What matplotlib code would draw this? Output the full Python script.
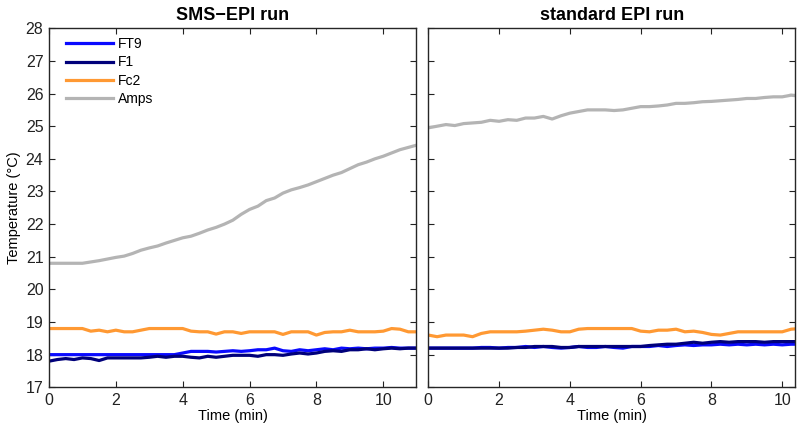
import numpy as np
import matplotlib
matplotlib.use('Agg')
import matplotlib.pyplot as plt

plt.rcParams['font.family'] = ['Liberation Sans', 'DejaVu Sans']

# Time grids (minutes)
t_sms = np.arange(0, 11.01, 0.25)
t_std = np.arange(0, 10.51, 0.25)

# SMS-EPI run temperatures (deg C)
sms_ft9 = [18.0, 18.0, 18.0, 18.0, 18.0, 18.0, 18.0, 18.0, 18.0, 18.0, 18.0, 18.0,
           18.0, 18.0, 18.0, 18.0, 18.05, 18.1, 18.1, 18.1, 18.08, 18.1, 18.12, 18.1,
           18.12, 18.15, 18.15, 18.2, 18.12, 18.1, 18.15, 18.12, 18.15, 18.18, 18.15,
           18.2, 18.18, 18.2, 18.18, 18.2, 18.2, 18.22, 18.2, 18.2, 18.2]
sms_f1 = [17.8, 17.85, 17.88, 17.85, 17.9, 17.88, 17.82, 17.9, 17.9, 17.9, 17.9, 17.9,
          17.92, 17.95, 17.92, 17.95, 17.95, 17.92, 17.9, 17.95, 17.92, 17.95, 17.98,
          17.98, 17.98, 17.95, 18.0, 18.0, 17.98, 18.02, 18.05, 18.02, 18.05, 18.1,
          18.12, 18.1, 18.15, 18.15, 18.18, 18.15, 18.18, 18.2, 18.18, 18.2, 18.2]
sms_fc2 = [18.8, 18.8, 18.8, 18.8, 18.8, 18.72, 18.75, 18.7, 18.75, 18.7, 18.7, 18.75,
           18.8, 18.8, 18.8, 18.8, 18.8, 18.72, 18.7, 18.7, 18.63, 18.7, 18.7, 18.65,
           18.7, 18.7, 18.7, 18.7, 18.62, 18.7, 18.7, 18.7, 18.6, 18.68, 18.7, 18.7,
           18.75, 18.7, 18.7, 18.7, 18.72, 18.8, 18.78, 18.7, 18.7]
sms_amps = [20.8, 20.8, 20.8, 20.8, 20.8, 20.84, 20.88, 20.93, 20.98, 21.02, 21.1, 21.2,
            21.27, 21.33, 21.42, 21.5, 21.58, 21.63, 21.72, 21.82, 21.9, 22.0, 22.12,
            22.3, 22.45, 22.55, 22.72, 22.8, 22.95, 23.05, 23.12, 23.2, 23.3, 23.4, 23.5,
            23.58, 23.7, 23.82, 23.9, 24.0, 24.08, 24.18, 24.28, 24.35, 24.42]

# standard EPI run temperatures (deg C)
std_ft9 = [18.2, 18.2, 18.2, 18.2, 18.2, 18.2, 18.22, 18.22, 18.2, 18.22, 18.22, 18.25,
           18.22, 18.25, 18.22, 18.2, 18.22, 18.25, 18.22, 18.22, 18.25, 18.22, 18.2,
           18.25, 18.25, 18.25, 18.28, 18.25, 18.28, 18.3, 18.28, 18.3, 18.3, 18.32,
           18.3, 18.32, 18.3, 18.32, 18.3, 18.32, 18.3, 18.32, 18.32]
std_f1 = [18.2, 18.2, 18.2, 18.2, 18.2, 18.2, 18.2, 18.2, 18.2, 18.2, 18.22, 18.22,
          18.25, 18.25, 18.25, 18.22, 18.22, 18.25, 18.25, 18.25, 18.25, 18.25, 18.25,
          18.25, 18.25, 18.28, 18.3, 18.32, 18.32, 18.35, 18.38, 18.35, 18.38, 18.4,
          18.38, 18.4, 18.4, 18.4, 18.38, 18.4, 18.4, 18.4, 18.4]
std_fc2 = [18.6, 18.55, 18.6, 18.6, 18.6, 18.55, 18.65, 18.7, 18.7, 18.7, 18.7, 18.72,
           18.75, 18.78, 18.75, 18.7, 18.7, 18.78, 18.8, 18.8, 18.8, 18.8, 18.8, 18.8,
           18.72, 18.7, 18.75, 18.75, 18.78, 18.7, 18.72, 18.68, 18.62, 18.6, 18.65,
           18.7, 18.7, 18.7, 18.7, 18.7, 18.7, 18.78, 18.8]
std_amps = [24.95, 25.0, 25.05, 25.02, 25.08, 25.1, 25.12, 25.18, 25.15, 25.2, 25.18,
            25.25, 25.25, 25.3, 25.22, 25.32, 25.4, 25.45, 25.5, 25.5, 25.5, 25.48, 25.5,
            25.55, 25.6, 25.6, 25.62, 25.65, 25.7, 25.7, 25.72, 25.75, 25.76, 25.78,
            25.8, 25.82, 25.85, 25.85, 25.88, 25.9, 25.9, 25.95, 25.92]

labels = ['FT9', 'F1', 'Fc2', 'Amps']
colors = ['#0a0aff', '#00007a', '#ff9933', '#b4b4b4']
xticks = [0, 2, 4, 6, 8, 10]
yticks = list(range(17, 29))

fig = plt.figure(figsize=(8.07, 4.32), dpi=100)
ax1 = fig.add_axes([0.0607, 0.1035, 0.4548, 0.831])
ax2 = fig.add_axes([0.5307, 0.1035, 0.4544, 0.831])

panels = [
    (ax1, t_sms, [sms_ft9, sms_f1, sms_fc2, sms_amps], 'SMS\u2212EPI run', 10.98),
    (ax2, t_std, [std_ft9, std_f1, std_fc2, std_amps], 'standard EPI run', 10.36),
]

for ax, t, series, title, xmax in panels:
    for vals, lab, col in zip(series, labels, colors):
        ax.plot(t, vals, color=col, lw=2.3, label=lab)
    ax.set_xlim(0, xmax)
    ax.set_ylim(17, 28)
    ax.set_xticks(xticks)
    ax.set_yticks(yticks)
    ax.set_title(title, fontsize=13, fontweight='bold', pad=6)
    ax.set_xlabel('Time (min)', fontsize=10.5, labelpad=1)
    ax.tick_params(direction='in', top=True, right=True, length=4,
                   labelsize=11.5, colors='#222222', pad=4)
    for sp in ax.spines.values():
        sp.set_linewidth(1.0)
        sp.set_color('#262626')

ax1.set_ylabel('Temperature (\u00b0C)', fontsize=10.5, labelpad=3)
ax2.tick_params(labelleft=False)

ax1.legend(loc='upper left', bbox_to_anchor=(0.045, 0.975), frameon=False,
           fontsize=10, handlelength=3.4, handletextpad=0.35, labelspacing=0.3,
           borderpad=0, borderaxespad=0)

fig.savefig('out.png', dpi=100)
